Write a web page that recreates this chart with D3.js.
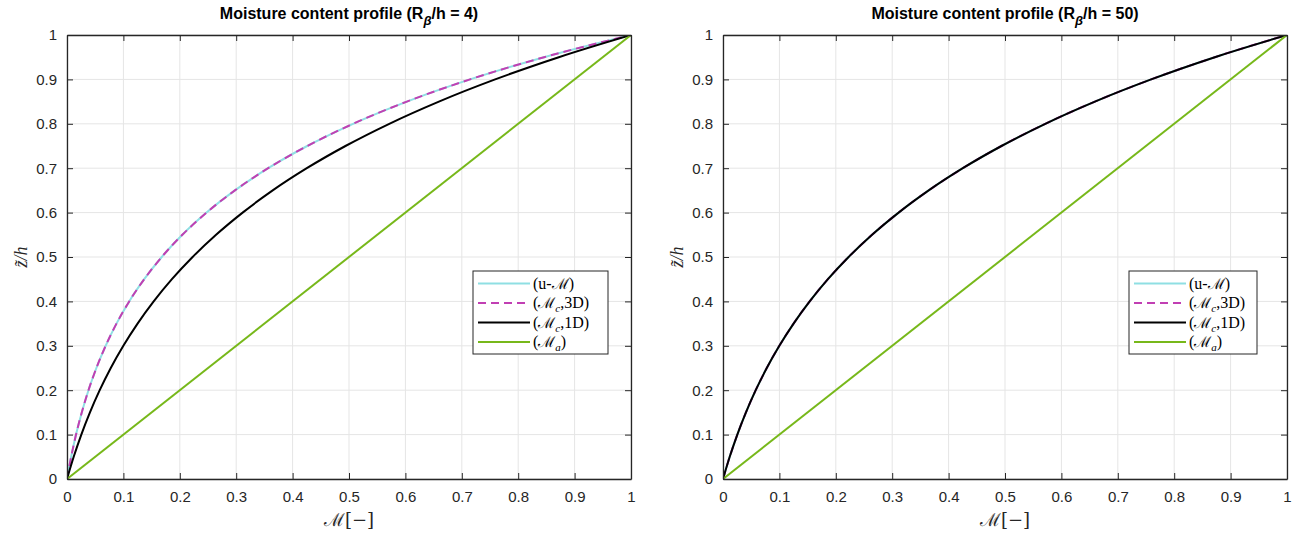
<!DOCTYPE html>
<html><head><meta charset="utf-8">
<script src="https://cdn.jsdelivr.net/npm/d3@7"></script>
<style>body{margin:0;background:#fff}</style>
</head><body><svg id="c" width="1301" height="536"></svg>
<script>
// Heights z/h at which curves are sampled
const zLevels = [0,0.05,0.1,0.15,0.2,0.25,0.3,0.35,0.4,0.45,0.5,0.55,0.6,0.65,0.7,0.75,0.8,0.85,0.9,0.95,1];
// Left panel (R_beta/h = 4)
const leftUM   = [0,0.0074,0.016,0.0262,0.0381,0.0521,0.0685,0.0877,0.1103,0.1369,0.168,0.2045,0.2474,0.2977,0.3567,0.4259,0.5072,0.6026,0.7145,0.8459,1];
const leftC3D  = [0,0.0074,0.016,0.0262,0.0381,0.0521,0.0685,0.0877,0.1103,0.1369,0.168,0.2045,0.2474,0.2977,0.3567,0.4259,0.5072,0.6026,0.7145,0.8459,1];
const leftC1D  = [0,0.0119,0.0254,0.0407,0.058,0.0776,0.0999,0.1251,0.1537,0.186,0.2227,0.2643,0.3114,0.3647,0.4252,0.4937,0.5714,0.6594,0.7591,0.872,1];
// Right panel (R_beta/h = 50)
const rightUM  = [0,0.0119,0.0254,0.0407,0.058,0.0776,0.0999,0.1251,0.1537,0.186,0.2227,0.2643,0.3114,0.3647,0.4252,0.4937,0.5714,0.6594,0.7591,0.872,1];
const rightC3D = [0,0.0119,0.0254,0.0407,0.058,0.0776,0.0999,0.1251,0.1537,0.186,0.2227,0.2643,0.3114,0.3647,0.4252,0.4937,0.5714,0.6594,0.7591,0.872,1];
const rightC1D = [0,0.0119,0.0254,0.0407,0.058,0.0776,0.0999,0.1251,0.1537,0.186,0.2227,0.2643,0.3114,0.3647,0.4252,0.4937,0.5714,0.6594,0.7591,0.872,1];
// Ambient profile
const ambZ = [0,1];
const ambM = [0,1];
const tickValues = [0,0.1,0.2,0.3,0.4,0.5,0.6,0.7,0.8,0.9,1];
const tickLabels = ["0","0.1","0.2","0.3","0.4","0.5","0.6","0.7","0.8","0.9","1"];
const ratios = ["4","50"];

const colors = {u:"#8fdfe3", c3:"#c13fb3", c1:"#000000", a:"#77b81a"};
const svg = d3.select("#c");
const axisCol = "#262626";

const panels = [
  {ratio:ratios[0], x0:67, x1:631, u:leftUM, c3:leftC3D, c1:leftC1D, leg:{x:473,w:135}},
  {ratio:ratios[1], x0:723, x1:1287, u:rightUM, c3:rightC3D, c1:rightC1D, leg:{x:1129,w:128}}
];
const yTop = 35, yBot = 479;

panels.forEach(p => {
  const x = d3.scaleLinear().domain([0,1]).range([p.x0,p.x1]);
  const y = d3.scaleLinear().domain([0,1]).range([yBot,yTop]);
  const g = svg.append("g");
  // grid
  g.selectAll(".gx").data(tickValues).enter().append("line")
    .attr("x1",d=>x(d)).attr("x2",d=>x(d)).attr("y1",yTop).attr("y2",yBot)
    .attr("stroke","#e5e5e5").attr("stroke-width",1);
  g.selectAll(".gy").data(tickValues).enter().append("line")
    .attr("y1",d=>y(d)).attr("y2",d=>y(d)).attr("x1",p.x0).attr("x2",p.x1)
    .attr("stroke","#e5e5e5").attr("stroke-width",1);

  const line = (ms) => d3.line().x(d=>x(d[0])).y(d=>y(d[1])).curve(d3.curveMonotoneX)(ms.map((m,i)=>[m,zLevels[i]]));
  const clip = "clip"+p.ratio;
  svg.append("clipPath").attr("id",clip).append("rect").attr("x",p.x0).attr("y",yTop).attr("width",p.x1-p.x0).attr("height",yBot-yTop);
  const lg = g.append("g").attr("clip-path",`url(#${clip})`);
  lg.append("path").attr("d",line(p.u)).attr("fill","none").attr("stroke",colors.u).attr("stroke-width",2);
  lg.append("path").attr("d",line(p.c3)).attr("fill","none").attr("stroke",colors.c3).attr("stroke-width",2).attr("stroke-dasharray","8,5");
  lg.append("path").attr("d",line(p.c1)).attr("fill","none").attr("stroke",colors.c1).attr("stroke-width",2);
  lg.append("path").attr("d",d3.line().x(d=>x(d[0])).y(d=>y(d[1]))(ambM.map((m,i)=>[m,ambZ[i]])))
    .attr("fill","none").attr("stroke",colors.a).attr("stroke-width",2);

  // axes with inward ticks
  const tickLen = 6;
  const axB = d3.axisBottom(x).tickValues(tickValues).tickFormat((d,i)=>tickLabels[i]).tickSizeInner(-tickLen).tickSizeOuter(0).tickPadding(12);
  const axL = d3.axisLeft(y).tickValues(tickValues).tickFormat((d,i)=>tickLabels[i]).tickSizeInner(-tickLen).tickSizeOuter(0).tickPadding(10);
  const axT = d3.axisTop(x).tickValues(tickValues).tickFormat("").tickSizeInner(-tickLen).tickSizeOuter(0);
  const axR = d3.axisRight(y).tickValues(tickValues).tickFormat("").tickSizeInner(-tickLen).tickSizeOuter(0);
  [[axB,`translate(0,${yBot})`],[axL,`translate(${p.x0},0)`],[axT,`translate(0,${yTop})`],[axR,`translate(${p.x1},0)`]].forEach(([ax,t])=>{
    const a = g.append("g").attr("transform",t).call(ax);
    a.selectAll("path.domain").attr("stroke",axisCol).attr("stroke-width",1.3);
    a.selectAll(".tick line").attr("stroke",axisCol).attr("stroke-width",1);
    a.selectAll("text").attr("fill",axisCol).style("font-family","'Liberation Sans',Arial,sans-serif").style("font-size","15px");
  });

  // title
  const cx = (p.x0+p.x1)/2;
  const t = g.append("text").attr("x",cx).attr("y",19).attr("text-anchor","middle")
    .style("font-family","'Liberation Sans',Arial,sans-serif").style("font-size","16px").style("font-weight","bold").attr("fill","#000");
  t.append("tspan").text("Moisture content profile (R");
  t.append("tspan").attr("dy",6).style("font-size","13px").style("font-style","italic").text("β");
  t.append("tspan").attr("dy",-6).text(`/h = ${p.ratio})`);

  // x label
  const xl = g.append("text").attr("x",cx).attr("y",526).attr("text-anchor","middle")
    .style("font-family","'DejaVu Serif','Liberation Serif',serif").style("font-size","18px").attr("fill",axisCol);
  xl.append("tspan").text("ℳ");
  xl.append("tspan").text("[−]");
  // y label
  const yl = g.append("text").attr("transform",`translate(${p.x0-40},${(yTop+yBot)/2}) rotate(-90)`).attr("text-anchor","middle")
    .style("font-family","'Liberation Serif','DejaVu Serif',serif").style("font-size","18px").style("font-style","italic").attr("fill",axisCol);
  yl.append("tspan").text("z\u0303/h");

  // legend
  const L = p.leg, ly0 = 271, lh = 83;
  const lgd = g.append("g");
  lgd.append("rect").attr("x",L.x).attr("y",ly0).attr("width",L.w).attr("height",lh).attr("fill","#fff").attr("stroke",axisCol).attr("stroke-width",1);
  const entries = [
    {c:colors.u, dash:null, parts:[["(u-",null],["ℳ","m"],[")",null]]},
    {c:colors.c3, dash:"8,5", parts:[["(",null],["ℳ","m"],["c","sub"],[",3D)",null]]},
    {c:colors.c1, dash:null, parts:[["(",null],["ℳ","m"],["c","sub"],[",1D)",null]]},
    {c:colors.a, dash:null, parts:[["(",null],["ℳ","m"],["a","sub"],[")",null]]}
  ];
  entries.forEach((e,i)=>{
    const yy = ly0 + 12.5 + i*19.5;
    lgd.append("line").attr("x1",L.x+5).attr("x2",L.x+57).attr("y1",yy).attr("y2",yy)
      .attr("stroke",e.c).attr("stroke-width",2).attr("stroke-dasharray",e.dash);
    const tx = lgd.append("text").attr("x",L.x+60).attr("y",yy+5)
      .style("font-family","'Liberation Serif','DejaVu Serif',serif").style("font-size","16px").attr("fill","#000");
    let shifted = false;
    e.parts.forEach(([s,k])=>{
      const ts = tx.append("tspan").text(s);
      if (k==="m") ts.style("font-family","'DejaVu Serif',serif").style("font-size","15px");
      if (k==="sub") { ts.attr("dy",4).style("font-size","11px").style("font-style","italic"); shifted = true; }
      else if (shifted) { ts.attr("dy",-4); shifted=false; }
    });
  });
});
</script></body></html>
